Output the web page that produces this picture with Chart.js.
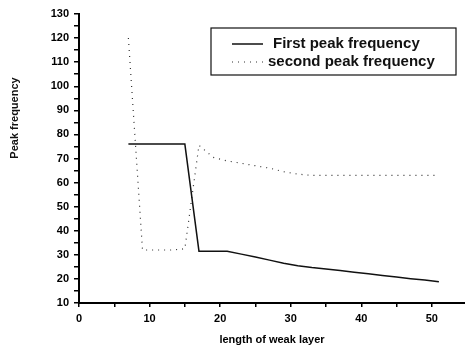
<!DOCTYPE html>
<html>
<head>
<meta charset="utf-8">
<script src="https://cdn.jsdelivr.net/npm/chart.js@4.4.0/dist/chart.umd.min.js"></script>
<style>
  html, body { margin: 0; padding: 0; background: #fff; }
  #wrap { width: 465px; height: 347px; }
</style>
</head>
<body>
<div id="wrap"><canvas id="myChart" width="465" height="347"></canvas></div>
<script>
// values
var lengths = [7, 9, 11, 13, 15, 17, 19, 21, 23, 25, 27, 29, 31, 33, 35, 37, 39, 41, 43, 45, 47, 49, 51];
var firstPeak = [76, 76, 76, 76, 76, 31.5, 31.5, 31.5, 30.3, 29.1, 27.8, 26.5, 25.5, 24.7, 24.1, 23.5, 22.8, 22.1, 21.4, 20.8, 20.1, 19.5, 18.8];
var secondPeak = [120, 32, 32, 32, 32.5, 75.5, 70.5, 69, 68, 67, 66, 64.5, 63.5, 63, 63, 63, 63, 63, 63, 63, 63, 63, 63];
var seriesNames = ['First peak frequency', 'second peak frequency'];
var xTicks = [0, 5, 10, 15, 20, 25, 30, 35, 40, 45, 50];
var xTitle = 'length of weak layer';
var yTitle = 'Peak frequency';

function toPoints(ys) {
    return lengths.map(function (x, i) { return { x: x, y: ys[i] }; });
}

var FONT = '"Liberation Sans", Arial, sans-serif';

// legend box and rotated y title drawn by hand
var extras = {
    id: 'extras',
    afterDraw: function (chart) {
        var ctx = chart.ctx;
        ctx.save();
        // legend
        var bx = 211, by = 28, bw = 245, bh = 47;
        ctx.strokeStyle = '#111';
        ctx.lineWidth = 1.2;
        ctx.strokeRect(bx, by, bw, bh);
        ctx.font = 'bold 15px ' + FONT;
        ctx.fillStyle = '#111';
        ctx.textBaseline = 'middle';
        var rows = [by + 16, by + 34];
        var textX = [273, 268];
        chart.data.datasets.forEach(function (ds, i) {
            ctx.beginPath();
            ctx.strokeStyle = ds.borderColor;
            ctx.lineWidth = ds.borderWidth;
            ctx.setLineDash(ds.borderDash || []);
            ctx.moveTo(232, rows[i]);
            ctx.lineTo(263, rows[i]);
            ctx.stroke();
            ctx.setLineDash([]);
            ctx.fillText(ds.label, textX[i], rows[i]);
        });
        // y title
        ctx.translate(15, 118);
        ctx.rotate(-Math.PI / 2);
        ctx.textAlign = 'center';
        ctx.font = 'bold 11px ' + FONT;
        ctx.fillText(yTitle, 0, 0);
        ctx.restore();
    }
};

var ctx = document.getElementById('myChart').getContext('2d');
var chart = new Chart(ctx, {
    type: 'line',
    data: {
        datasets: [{
            label: seriesNames[0],
            data: toPoints(firstPeak),
            borderColor: '#111',
            borderWidth: 1.5,
            pointRadius: 0,
            tension: 0
        }, {
            label: seriesNames[1],
            data: toPoints(secondPeak),
            borderColor: '#333',
            borderWidth: 1.2,
            borderDash: [1, 5],
            pointRadius: 0,
            tension: 0
        }]
    },
    options: {
        responsive: false,
        animation: false,
        layout: { padding: { top: 14, right: 0, left: 0, bottom: 0 } },
        plugins: {
            legend: { display: false },
            tooltip: { enabled: false }
        },
        scales: {
            x: {
                type: 'linear',
                min: 0,
                max: 54.7,
                border: { color: '#000', width: 2 },
                grid: { display: true, drawOnChartArea: false, drawTicks: true, tickLength: 4, color: '#000', lineWidth: 1.5 },
                afterBuildTicks: function (s) {
                    s.ticks = xTicks.map(function (v) { return { value: v }; });
                },
                ticks: {
                    autoSkip: false,
                    maxRotation: 0,
                    color: '#000',
                    padding: 5,
                    font: { family: FONT, size: 11, weight: 'bold' },
                    callback: function (v) { return v % 10 === 0 ? v : ''; }
                },
                title: {
                    display: true,
                    text: xTitle,
                    color: '#000',
                    padding: { top: 4, bottom: 0 },
                    font: { family: FONT, size: 11, weight: 'bold' }
                },
                afterFit: function (s) { s.height = 44; }
            },
            y: {
                min: 10,
                max: 130,
                border: { color: '#000', width: 2 },
                grid: { display: true, drawOnChartArea: false, drawTicks: true, tickLength: 5, color: '#000', lineWidth: 1.5 },
                ticks: {
                    stepSize: 5,
                    autoSkip: false,
                    color: '#000',
                    padding: 5,
                    font: { family: FONT, size: 11, weight: 'bold' },
                    callback: function (v) { return v % 10 === 0 ? v : ''; }
                },
                afterFit: function (s) { s.width = 79; }
            }
        }
    },
    plugins: [extras]
});
</script>
</body>
</html>
